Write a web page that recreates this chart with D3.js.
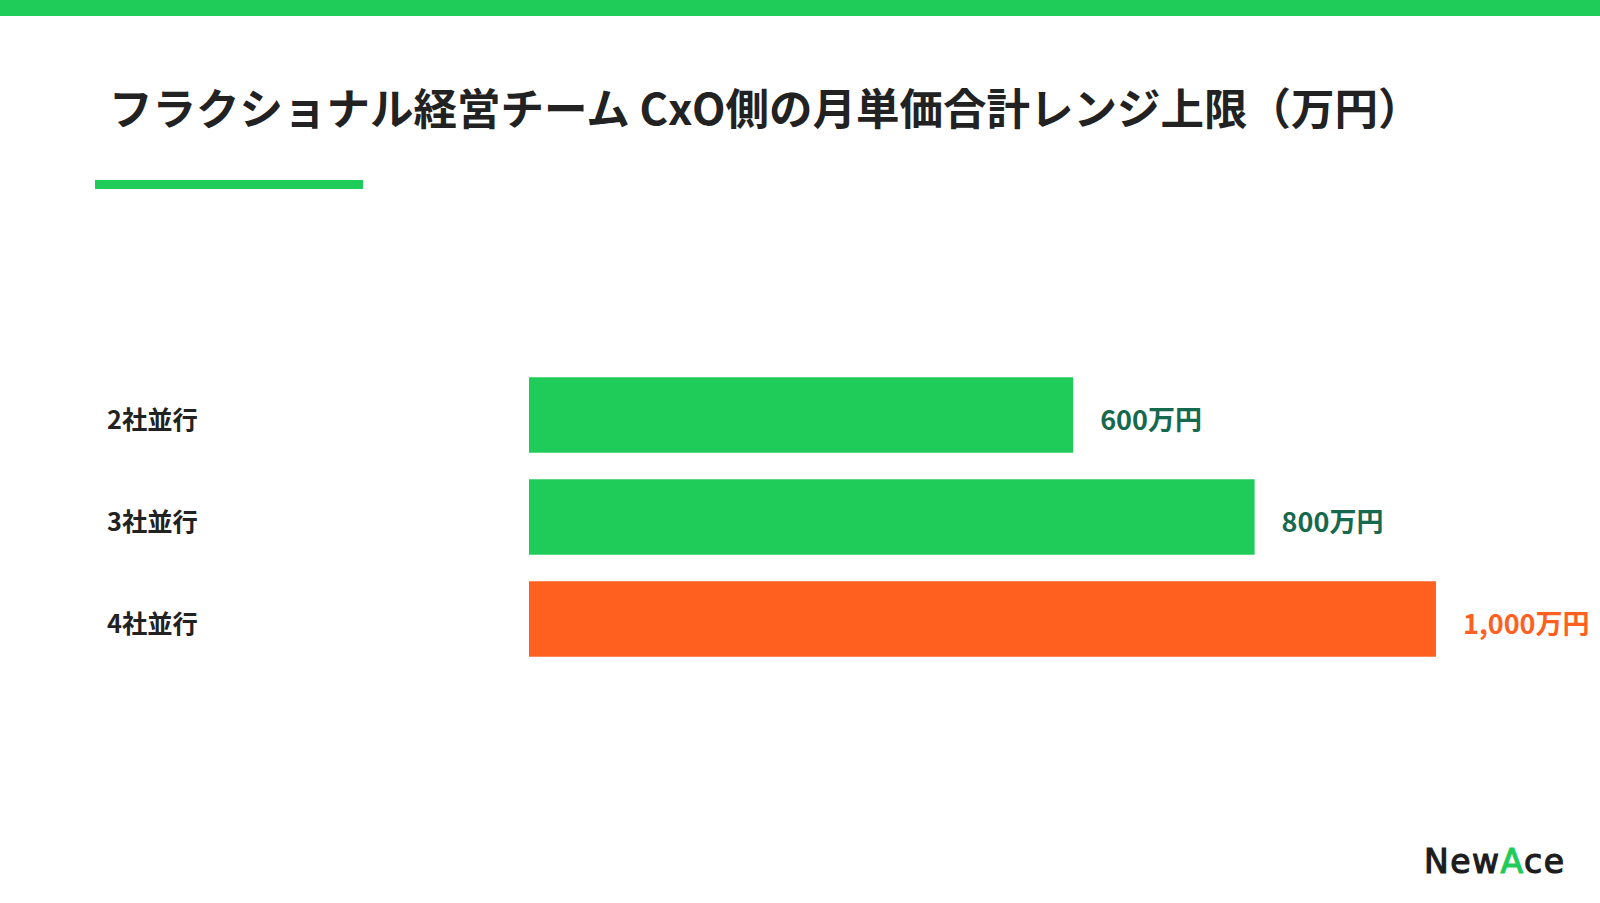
<!DOCTYPE html>
<html><head><meta charset="utf-8">
<script src="https://cdn.jsdelivr.net/npm/d3@7"></script>
<style>html,body{margin:0;padding:0;background:#fff;}svg{display:block;}</style>
</head><body>
<script>
const categories = ["2社並行", "3社並行", "4社並行"];
const values = [600, 800, 1000];
const valueLabels = ["600万円", "800万円", "1,000万円"];
const highlight = [false, false, true];
const title = "フラクショナル経営チーム CxO側の月単価合計レンジ上限（万円）";

const W = 1600, H = 903;
const green = "#1fcc5a", orange = "#ff5f1f", darkGreen = "#17694e", textDark = "#222";
const font = "'Noto Sans CJK JP', 'Noto Sans', sans-serif";

const svg = d3.select("body").append("svg").attr("width", W).attr("height", H);
svg.append("rect").attr("x",0).attr("y",0).attr("width",W).attr("height",16).attr("fill",green);
svg.append("text").attr("x",109).attr("y",125).attr("font-family",font).attr("font-weight",700)
  .attr("font-size",43.5).attr("fill",textDark).text(title);
svg.append("rect").attr("x",95).attr("y",180).attr("width",268).attr("height",9).attr("fill",green);

const x = d3.scaleLinear().domain([0, 1000]).range([529, 1436]);
const y = d3.scaleBand().domain(categories).range([364, 670]).paddingInner(0.26).paddingOuter(0.13);

const g = svg.append("g");
g.selectAll("rect.bar").data(categories).join("rect").attr("class","bar")
  .attr("x", x(0)).attr("y", d => y(d)).attr("height", y.bandwidth())
  .attr("width", (d,i) => x(values[i]) - x(0))
  .attr("fill", (d,i) => highlight[i] ? orange : green);

g.selectAll("text.cat").data(categories).join("text").attr("class","cat")
  .attr("x", 107).attr("y", d => y(d) + y.bandwidth()/2 + 5).attr("dy","0.36em")
  .attr("font-family",font).attr("font-weight",700).attr("font-size",25.3).attr("fill",textDark)
  .text(d => d);

g.selectAll("text.val").data(categories).join("text").attr("class","val")
  .attr("x", (d,i) => x(values[i]) + 27).attr("y", d => y(d) + y.bandwidth()/2 + 5).attr("dy","0.36em")
  .attr("font-family",font).attr("font-weight",700).attr("font-size",27)
  .attr("fill", (d,i) => highlight[i] ? orange : darkGreen)
  .text((d,i) => valueLabels[i]);

// logo
const logo = svg.append("text").attr("x",1424).attr("y",873).attr("font-family","'DejaVu Sans',sans-serif")
  .attr("font-weight",400).attr("font-size",33).attr("fill","#1d1d1d").attr("letter-spacing",1.5)
  .attr("stroke","#1d1d1d").attr("stroke-width",1.2);
logo.append("tspan").text("New");
logo.append("tspan").attr("fill",green).attr("stroke",green).text("A");
logo.append("tspan").text("ce");
</script>
</body></html>
